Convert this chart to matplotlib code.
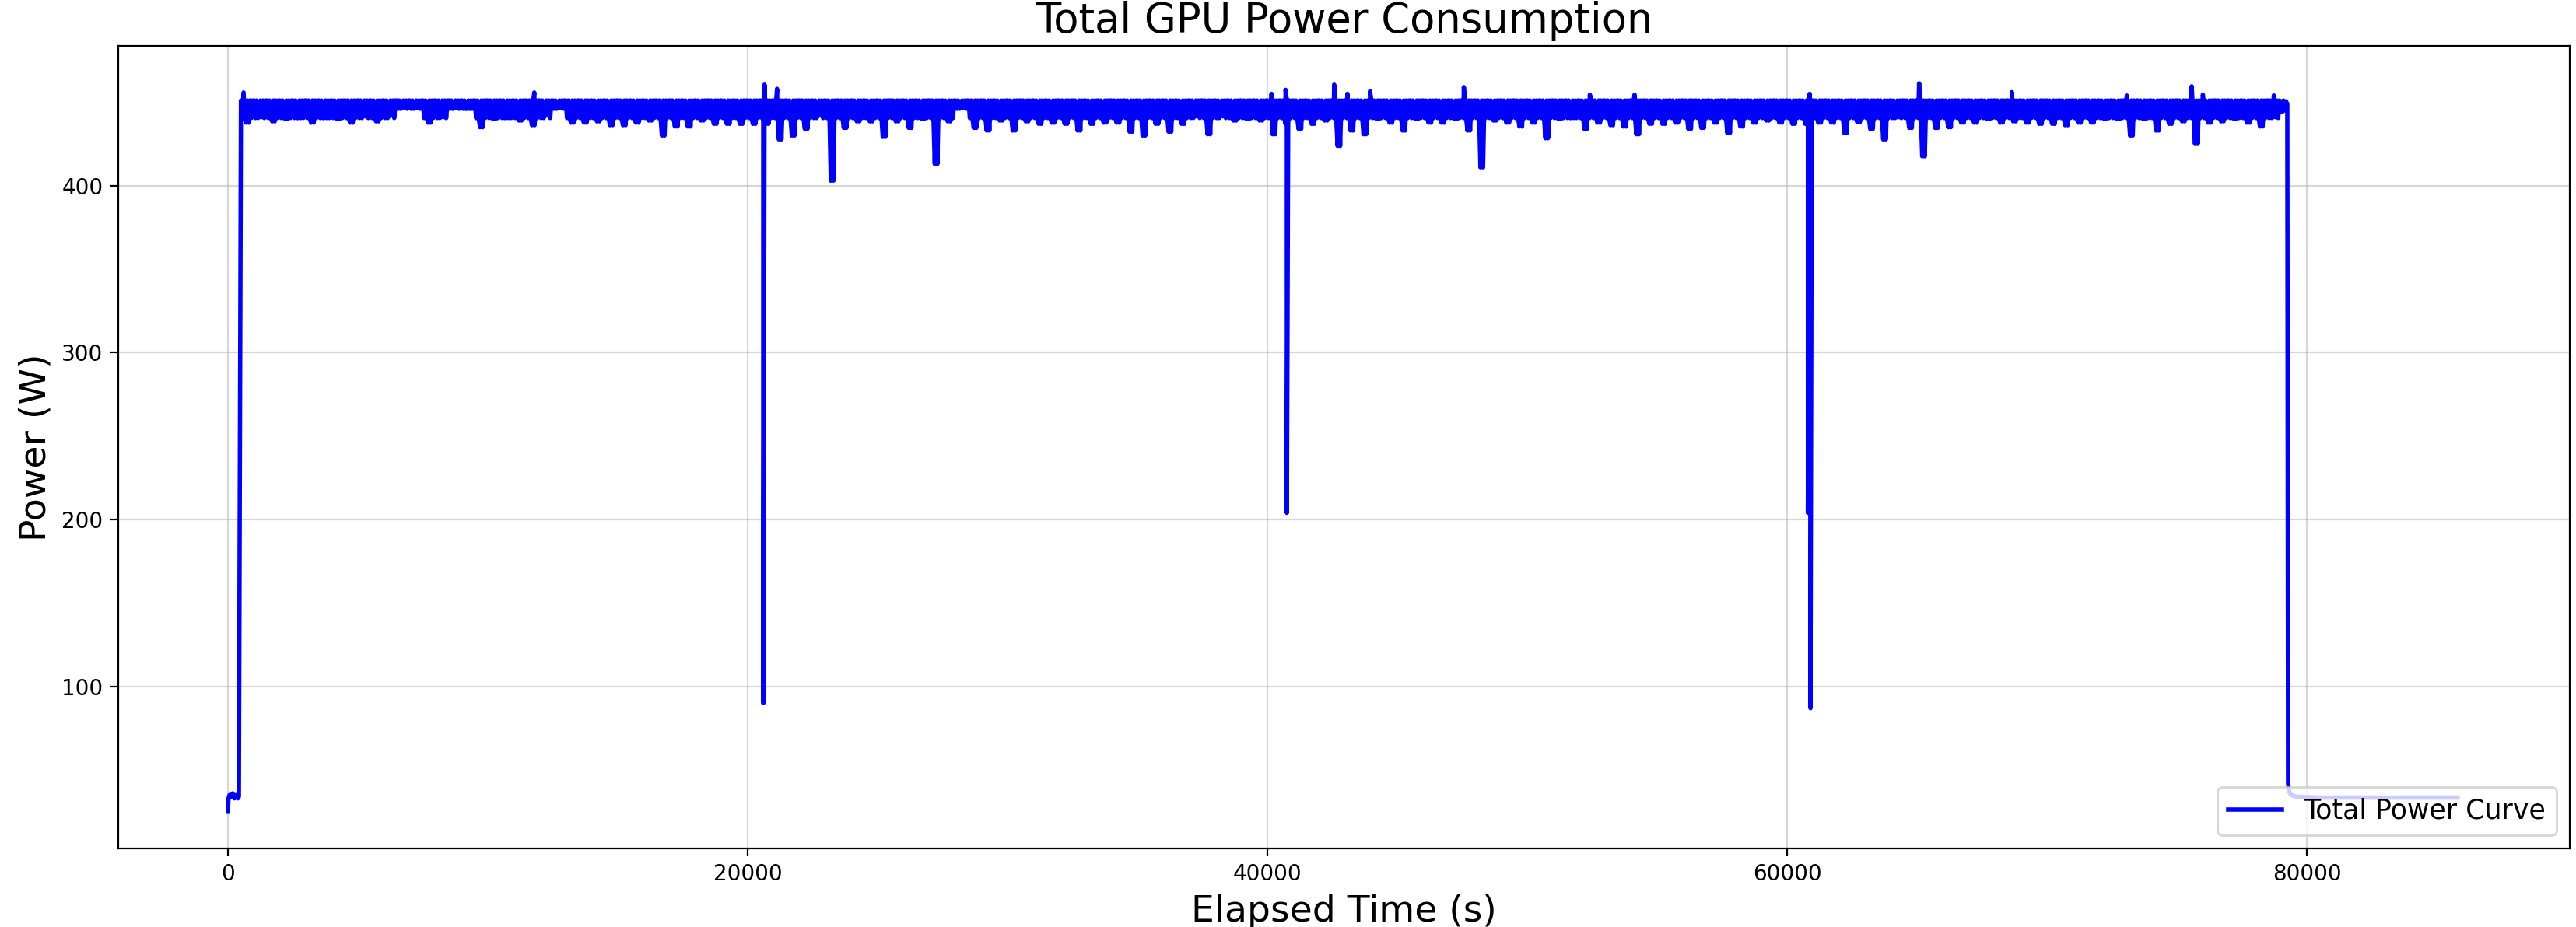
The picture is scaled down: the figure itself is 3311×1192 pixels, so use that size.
import numpy as np
import matplotlib
matplotlib.use("Agg")
import matplotlib.pyplot as plt

# idle period before the job starts (s, W)
start_times = [0, 20, 60, 120, 180, 250, 320, 380, 420]
start_power = [25, 33, 35, 34, 36, 33, 35, 33, 34]

# steady load: band top / bottom
band_top = 451.0
band_base = 440.5
narrow_base = 446.0
narrow_start = [6400, 8500, 12400, 27800]
narrow_end = [7500, 9100, 12900, 28300]

# deepest value inside each 500 s block, blocks start at 500 s
block_len = 500
block_dips = [
    437.7, 441, 438.5, 440, 440.5, 437.7, 440.5, 440, 437.7, 441.5,
    438.5, 442, 446.5, 446.5, 437.7, 441, 446.5, 437, 435, 440,
    440.5, 439, 436.2, 442, 446.5, 437.7, 437.7, 438.5, 436.2, 436.2,
    437.7, 439, 430, 435.4, 435.4, 439, 437, 437, 437, 437,
    437, 427.7, 430, 434, 442, 403, 434.6, 438.5, 438.5, 429.2,
    438.5, 434.6, 440, 413, 438.5, 446.5, 434.6, 433, 439, 433,
    438.5, 437, 437.7, 437, 433, 437, 437.7, 437.7, 432.3, 430,
    437, 432.3, 437, 441.5, 430.8, 441.5, 439, 440, 439, 430.8,
    437, 434, 437, 439, 423.8, 433, 430.8, 440, 437.7, 433,
    440, 437.7, 437.7, 440, 433, 411, 439, 437.7, 435.4, 437.7,
    428.4, 440, 440.5, 434, 437.7, 436.2, 435.4, 430.8, 437, 437,
    437.7, 434, 434.6, 437.7, 431.5, 435.4, 437.7, 439, 437.7, 437,
    437, 437.7, 437.7, 431.5, 438, 434, 427.7, 441, 434.6, 417.6,
    434.6, 435, 437.7, 437.7, 440, 437.7, 438.5, 437.7, 437, 437,
    436.2, 437.7, 437.7, 440, 440, 430, 440, 433, 437, 438.5,
    425, 437.7, 438.5, 440, 437.7, 435.4, 441,
]

# short upward spikes
spike_times = [600, 11790, 20650, 21130, 40160, 40700, 42570, 43080, 43950, 47560,
               52410, 54130, 60870, 65080, 68650, 73070, 75570, 76000, 78730]
spike_power = [455.8, 455.8, 460.5, 458, 455, 457.4, 460.5, 455, 456.6, 459,
               454.5, 454.5, 455, 461.3, 456, 454, 459.5, 454.5, 454]

# large drops during the run
drop_times = [20600, 40750, 60800, 60900]
drop_power = [90, 204, 204, 87]

# end of the run and idle tail
end_times = [79050, 79100, 79150, 79200, 79250]
end_power = [444, 451, 445, 450.5, 449]
tail_times = [79280, 79320, 79400, 79600, 80500, 82000, 84000, 85800]
tail_power = [42, 37, 35, 34, 33.5, 33.5, 33.5, 33.5]

# build the trace
pts = list(zip(start_times, start_power))
for i, dip in enumerate(block_dips):
    t0 = block_len + i * block_len
    base = band_base
    for a, b in zip(narrow_start, narrow_end):
        if a <= t0 < b:
            base = narrow_base
    if base == narrow_base:
        dip = max(dip, narrow_base)
    vals = [band_top, base, band_top, base, dip, band_top, dip, band_top, base, band_top]
    for k, v in enumerate(vals):
        pts.append((t0 + k * 50, v))
pts += list(zip(spike_times, spike_power))
pts += list(zip(drop_times, drop_power))
pts += list(zip(end_times, end_power))
pts += list(zip(tail_times, tail_power))
pts.sort(key=lambda p: p[0])
elapsed = np.array([p[0] for p in pts])
power = np.array([p[1] for p in pts])

fig = plt.figure(figsize=(16.56, 5.96), dpi=200)
ax = fig.add_axes([152 / 3312, 1 - 1091 / 1192, (3303 - 152) / 3312, (1091 - 59) / 1192])
ax.plot(elapsed, power, color="blue", linewidth=2.0, label="Total Power Curve")
ax.set_xlim(-4222, 90120)
ax.set_ylim(3.0, 483.7)
ax.set_title("Total GPU Power Consumption", fontsize=19)
ax.set_xlabel("Elapsed Time (s)", fontsize=17)
ax.set_ylabel("Power (W)", fontsize=17)
ax.grid(True, alpha=0.5)
ax.legend(loc="lower right", fontsize=12.5)
fig.savefig("out.png", dpi=200)
